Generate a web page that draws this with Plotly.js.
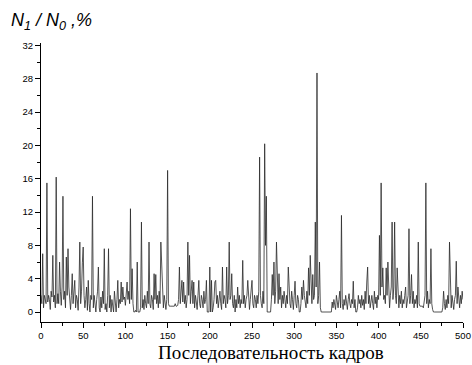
<!DOCTYPE html>
<html><head><meta charset="utf-8">
<script src="https://cdn.plot.ly/plotly-3.0.1.min.js"></script>
<style>html,body{margin:0;padding:0;background:#fff}#chart{width:472px;height:365px}</style>
</head><body><div id="chart"></div>
<script>
// Estimated N1/N0 (%) per frame, frames 0..500
const values = [
 2, 1, 7, 0.5, 2, 1.5, 1, 15.5, 1.2, 2,
 1.5, 0.3, 2.5, 1.8, 6.8, 1.2, 2, 0.5, 16.2, 1,
 2.2, 1, 6, 2.5, 0.8, 3, 13.9, 1.5, 2.5, 0.5,
 6.6, 2, 7.6, 3, 1.5, 0.3, 2, 4.6, 1, 2.5,
 3.8, 0.5, 2, 1.5, 0.2, 3, 8.4, 1, 2.5, 5.9,
 7.8, 2, 0.5, 1.5, 3, 0.2, 3.8, 1, 0, 2,
 1.5, 13.9, 0.5, 2, 1, 0, 1.5, 2.5, 5.4, 0.5,
 0, 1.8, 0.5, 2.5, 1, 7.6, 0.3, 1, 0, 2,
 7.6, 0.5, 2, 0, 1.5, 0.3, 0, 2.5, 1, 0,
 1.5, 3.8, 0.5, 1.5, 1, 3.6, 1.2, 3, 1.5, 1.8,
 0.8, 2, 3.6, 1.5, 2.5, 1, 12.4, 1.5, 5.2, 1,
 0, 0, 0.2, 0, 6, 0, 0, 0, 0.5, 10.8,
 0.5, 1.5, 0.3, 2, 1, 0.5, 2.5, 1, 8.4, 1,
 0.5, 2, 1.5, 0.3, 4.6, 1.5, 4.5, 1, 2, 0.5,
 2.5, 1, 8.4, 5.2, 1, 0.5, 2, 1, 0.3, 1.5,
 17, 1, 0.7, 0.7, 0.7, 0.7, 0.7, 0.7, 0.7, 1,
 0.7, 0.7, 0.8, 1.5, 5.4, 1, 2, 3.8, 1.2, 3.6,
 1, 2, 0.5, 1.5, 8.4, 2, 6.8, 1, 2.5, 3.8,
 1, 3.6, 0.5, 2, 1.2, 0.3, 2, 3.8, 1, 0.5,
 2, 1.5, 0.5, 2.5, 1, 1.5, 3.8, 0, 0, 0,
 5.4, 0, 3.8, 0, 0.5, 1.5, 3.6, 3.8, 1, 2,
 0.5, 1.5, 2.5, 1, 0.3, 5.4, 1, 2, 1.5, 0.5,
 5.4, 1, 2, 8.4, 1.5, 2, 4.6, 1, 0.5, 2,
 0, 1.5, 0.5, 3, 1, 2, 0.5, 1.5, 1, 6.2,
 1, 2, 0.5, 1.5, 2, 3.8, 1, 0.3, 1.5, 2.5,
 3.8, 1, 0.5, 2, 1.5, 0.5, 2, 1, 2.5, 18.6,
 2, 1, 0.5, 2.5, 1, 20.2, 8, 13.9, 0, 0,
 0, 0, 0, 1.5, 4.5, 2, 6, 1, 2.5, 8.4,
 2, 1, 4.6, 1.5, 3, 0.5, 2, 1, 2.5, 1.5,
 0.5, 2, 1, 5.4, 2, 1, 0.5, 2.5, 1.5, 0.3,
 2, 3.7, 1, 0.5, 2, 1.5, 0, 0, 1, 3,
 1.5, 3.8, 2, 1, 0.5, 2.5, 1, 5.3, 2, 6.8,
 2.5, 1, 4.5, 1.5, 2, 10.8, 3, 28.7, 1, 2,
 6, 0.5, 0, 0, 0, 0, 0, 0, 0, 0,
 0, 0, 0, 0, 0, 1.2, 0.5, 1.5, 1, 0.3,
 2, 1, 0.5, 1.5, 2.5, 0.5, 11.6, 1, 0.3, 1.5,
 0.8, 2, 1, 0.3, 1.5, 2.2, 1, 0.5, 1.5, 1,
 3.7, 0.5, 1.5, 0, 0, 0.5, 2, 1, 1.5, 0.5,
 2, 0.8, 1.5, 0.3, 2.5, 1, 3.6, 5.4, 1, 2,
 0.5, 1.5, 2, 1, 0.3, 2.5, 1, 1.8, 0.5, 2,
 1.5, 9.2, 2, 15.5, 3, 5.3, 1.5, 2, 1, 5.3,
 2, 6, 1.5, 0.5, 2, 3, 10.8, 1.5, 3, 10.8,
 2, 1, 5.3, 1.5, 0.5, 2, 1, 2.5, 0.5, 1.5,
 1, 2, 3, 0.5, 1.5, 2, 10, 1, 2, 4.5,
 1, 2.5, 0.5, 1.5, 1, 2, 0.5, 8.4, 1, 0.7,
 0.7, 0.7, 0.7, 0.5, 1.5, 2, 15.5, 1, 2.5, 0.5,
 1.5, 1, 7.6, 1, 0.3, 0, 0, 0, 0, 0,
 0, 0, 0, 0, 0, 0, 0.5, 2.5, 1, 0.3,
 1.5, 0.5, 2, 1, 8.4, 1.5, 0.5, 2, 1, 0.3,
 1.5, 2, 6.1, 1, 3, 1.5, 0.5, 2, 1, 2.5,
 1.5
];
const frames = values.map((_, i) => i);
const xTickVals = [0, 50, 100, 150, 200, 250, 300, 350, 400, 450, 500];
const yTickVals = [0, 4, 8, 12, 16, 20, 24, 28, 32];
const yTitle = '<i>N<sub>1</sub> / N<sub>0</sub> ,%</i>';
const xTitle = 'Последовательность кадров';

const trace = {
  x: frames, y: values, type: 'scatter', mode: 'lines',
  line: {color: '#2a2a2a', width: 0.8}, hoverinfo: 'skip'
};
const axisCommon = {
  showgrid: false, zeroline: false, showline: true, linecolor: '#000', linewidth: 1,
  ticks: 'outside', ticklen: 5, tickwidth: 1, tickcolor: '#000',
  tickfont: {family: 'Liberation Sans, Arial, sans-serif', size: 9.5, color: '#000'}
};
const layout = {
  width: 472, height: 365,
  margin: {l: 41, r: 9, t: 43, b: 43},
  paper_bgcolor: '#fff', plot_bgcolor: '#fff',
  showlegend: false,
  xaxis: Object.assign({}, axisCommon, {
    range: [0, 500], tickvals: xTickVals, ticktext: xTickVals.map(String),
    minor: {dtick: 25, tick0: 0, ticks: 'outside', ticklen: 3, tickcolor: '#000'}
  }),
  yaxis: Object.assign({}, axisCommon, {
    range: [-1.2, 32.3], tickvals: yTickVals, ticktext: yTickVals.map(String),
    minor: {dtick: 2, tick0: 0, ticks: 'outside', ticklen: 3, tickcolor: '#000'}
  }),
  annotations: [
    {text: yTitle, xref: 'paper', yref: 'paper', x: -0.077, y: 1.03, xanchor: 'left', yanchor: 'bottom',
     showarrow: false, font: {family: 'Liberation Sans, Arial, sans-serif', size: 18, color: '#000'}},
    {text: xTitle, xref: 'paper', yref: 'paper', x: 0.545, y: -0.155, xanchor: 'center', yanchor: 'bottom',
     showarrow: false, font: {family: 'Liberation Serif, Times New Roman, serif', size: 19, color: '#000'}}
  ]
};
Plotly.newPlot('chart', [trace], layout, {displayModeBar: false, staticPlot: true});
</script></body></html>
